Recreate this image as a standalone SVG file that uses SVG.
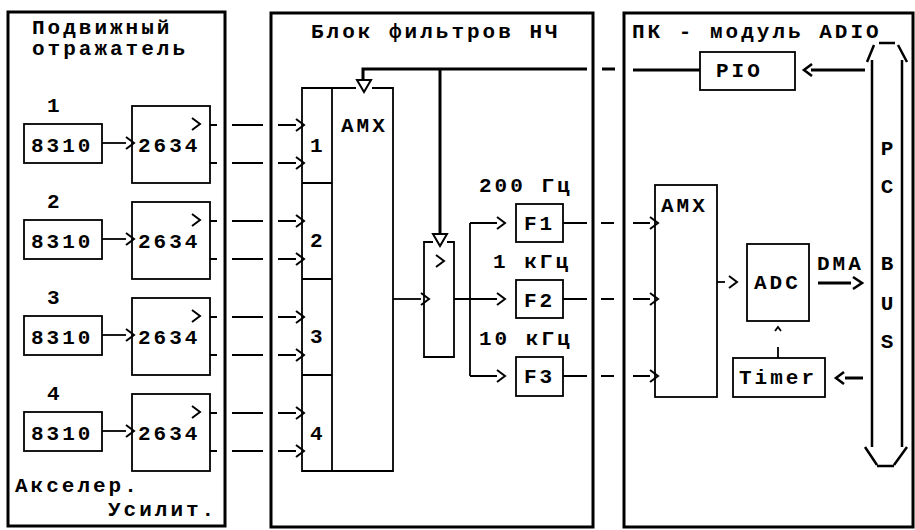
<svg xmlns="http://www.w3.org/2000/svg" xmlns:xlink="http://www.w3.org/1999/xlink" width="915" height="530" viewBox="0 0 915 530">
<style>
.bg{fill:#fff}
.pn{fill:none;stroke:#000;stroke-width:3}
.bx{fill:none;stroke:#000;stroke-width:1.8}
.ln{fill:none;stroke:#000;stroke-width:1.8}
.th{fill:none;stroke:#000;stroke-width:3}
.t{font-family:"Liberation Mono","DejaVu Sans Mono",monospace;font-size:21px;font-weight:bold;letter-spacing:3px;fill:#000}
.tm{text-anchor:middle;letter-spacing:0}
</style>
<defs>
<path id="ch" d="M-8,-6 L0,0 L-8,6" fill="none" stroke="#000" stroke-width="2"/>
<path id="chb" d="M-9,-6 L0,0 L-9,6" fill="none" stroke="#000" stroke-width="2.6"/>
<path id="chl" d="M8,-6 L0,0 L8,6" fill="none" stroke="#000" stroke-width="2.6"/>
<path id="tri" d="M-7,0 L7,0 L0,12 Z" fill="#fff" stroke="#000" stroke-width="2"/>
</defs>
<rect class="bg" x="0" y="0" width="915" height="530"/>

<g id="panel-left">
<rect class="pn" x="8" y="12" width="217" height="514"/>
<text class="t" x="32" y="34">Подвижный</text>
<text class="t" x="32" y="55">отражатель</text>
<text class="t" x="15" y="492">Акселер.</text>
<text class="t" x="108" y="516">Усилит.</text>
</g>

<g id="ch1">
<text class="t" x="47" y="112">1</text>
<rect class="bx" x="24" y="124" width="78" height="39"/>
<text class="t" x="31" y="152">8310</text>
<path class="ln" d="M102,143 H126"/>
<use xlink:href="#ch" x="134" y="143"/>
<rect class="bx" x="132" y="106" width="78" height="77"/>
<text class="t" x="138" y="152">2634</text>
<use xlink:href="#ch" x="200" y="124"/>
<path class="ln" d="M210,125 H217 M210,163 H217"/>
</g>
<g id="ch2" transform="translate(0,96)">
<text class="t" x="47" y="112">2</text>
<rect class="bx" x="24" y="124" width="78" height="39"/>
<text class="t" x="31" y="152">8310</text>
<path class="ln" d="M102,143 H126"/>
<use xlink:href="#ch" x="134" y="143"/>
<rect class="bx" x="132" y="106" width="78" height="77"/>
<text class="t" x="138" y="152">2634</text>
<use xlink:href="#ch" x="200" y="124"/>
<path class="ln" d="M210,125 H217 M210,163 H217"/>
</g>
<g id="ch3" transform="translate(0,192)">
<text class="t" x="47" y="112">3</text>
<rect class="bx" x="24" y="124" width="78" height="39"/>
<text class="t" x="31" y="152">8310</text>
<path class="ln" d="M102,143 H126"/>
<use xlink:href="#ch" x="134" y="143"/>
<rect class="bx" x="132" y="106" width="78" height="77"/>
<text class="t" x="138" y="152">2634</text>
<use xlink:href="#ch" x="200" y="124"/>
<path class="ln" d="M210,125 H217 M210,163 H217"/>
</g>
<g id="ch4" transform="translate(0,288)">
<text class="t" x="47" y="112">4</text>
<rect class="bx" x="24" y="124" width="78" height="39"/>
<text class="t" x="31" y="152">8310</text>
<path class="ln" d="M102,143 H126"/>
<use xlink:href="#ch" x="134" y="143"/>
<rect class="bx" x="132" y="106" width="78" height="77"/>
<text class="t" x="138" y="152">2634</text>
<use xlink:href="#ch" x="200" y="124"/>
<path class="ln" d="M210,125 H217 M210,163 H217"/>
</g>

<g id="panel-mid">
<rect class="pn" x="271" y="13" width="322" height="514"/>
<text class="t" x="311" y="38">Блок фильтров НЧ</text>
</g>

<g id="amx1">
<path class="bx" d="M356,88 H302 V471 H393 V88 H372 M332,88 V471 M302,183 H332 M302,279 H332 M302,375 H332"/>
<text class="t" x="341" y="132">AMX</text>
<text class="t" x="310" y="152">1</text>
<text class="t" x="310" y="247">2</text>
<text class="t" x="310" y="343">3</text>
<text class="t" x="310" y="440">4</text>
</g>

<g id="amp">
<path class="bx" d="M433,242 H424 V357 H454 V242 H447"/>
<use xlink:href="#ch" x="444" y="261"/>
</g>

<g id="f1">
<rect class="bx" x="516" y="204" width="47" height="38"/>
<text class="t" x="524" y="230">F1</text>
<text class="t" x="479" y="192">200 Гц</text>
</g>
<g id="f2">
<rect class="bx" x="516" y="280" width="47" height="38"/>
<text class="t" x="524" y="307">F2</text>
<text class="t" x="493" y="268">1 кГц</text>
</g>
<g id="f3">
<rect class="bx" x="516" y="357" width="47" height="39"/>
<text class="t" x="524" y="383">F3</text>
<text class="t" x="479" y="345">10 кГц</text>
</g>

<g id="panel-right">
<rect class="pn" x="624" y="13" width="289" height="514"/>
<text class="t" x="632" y="38">ПК - модуль ADIO</text>
</g>

<g id="pio">
<rect class="bx" x="700" y="52" width="95" height="38"/>
<text class="t" x="716" y="77">PIO</text>
</g>
<g id="amx2">
<rect class="bx" x="655" y="185" width="62" height="212"/>
<text class="t" x="661" y="212">AMX</text>
</g>
<g id="adc">
<rect class="bx" x="747" y="244" width="62" height="77"/>
<text class="t" x="754" y="289">ADC</text>
</g>
<g id="timer">
<rect class="bx" x="733" y="358" width="92" height="39"/>
<text class="t" x="739" y="384">Timer</text>
</g>
<g id="pcbus">
<path class="th" d="M872,60 V447 M902,60 V447" style="stroke-width:2.5"/>
<path class="ln" d="M867,62 L874,45 M879,43 H895 M898,45 L907,62 M865,447 L877,465 M877,466 H894 M894,465 L907,447" style="stroke-width:2.5"/>
<text class="t tm" x="887" y="155">P</text>
<text class="t tm" x="887" y="193">C</text>
<text class="t tm" x="887" y="270">B</text>
<text class="t tm" x="887" y="310">U</text>
<text class="t tm" x="887" y="348">S</text>
</g>

<g id="connectors">
<path class="ln" d="M232,125 H263 M278,125 H296 M232,163 H263 M278,163 H296
 M232,221 H263 M278,221 H296 M232,259 H263 M278,259 H296
 M232,317 H263 M278,317 H296 M232,355 H263 M278,355 H296
 M232,413 H263 M278,413 H296 M232,451 H263 M278,451 H296"/>
<use xlink:href="#ch" x="304" y="125"/><use xlink:href="#ch" x="304" y="163"/>
<use xlink:href="#ch" x="304" y="221"/><use xlink:href="#ch" x="304" y="259"/>
<use xlink:href="#ch" x="304" y="317"/><use xlink:href="#ch" x="304" y="355"/>
<use xlink:href="#ch" x="304" y="413"/><use xlink:href="#ch" x="304" y="451"/>
<path class="th" d="M700,70 H633 M615,69 H602 M587,69 H363 V80 M440,69 V234"/>
<use xlink:href="#tri" x="364" y="80"/>
<use xlink:href="#tri" x="440" y="234"/>
<path class="th" d="M811,70 H865"/>
<use xlink:href="#chl" x="804" y="70"/>
<path class="ln" d="M393,299 H421"/>
<use xlink:href="#ch" x="429" y="299"/>
<path class="ln" d="M454,299 H497 M470,223 V376 M470,223 H497 M470,376 H497"/>
<use xlink:href="#ch" x="505" y="223"/>
<use xlink:href="#ch" x="505" y="299"/>
<use xlink:href="#ch" x="505" y="376"/>
<path class="ln" d="M563,223 H587 M601,223 H614 M633,223 H650
 M563,299 H587 M601,299 H614 M633,299 H650
 M563,376 H587 M601,376 H614 M633,376 H650"/>
<use xlink:href="#ch" x="658" y="223"/>
<use xlink:href="#ch" x="658" y="299"/>
<use xlink:href="#ch" x="658" y="376"/>
<path class="ln" d="M717,282 H725"/>
<use xlink:href="#ch" x="737" y="282"/>
<text class="t" x="817" y="270">DMA</text>
<path class="th" d="M818,283 H851"/>
<use xlink:href="#chb" x="862" y="283"/>
<path class="ln" d="M775,331 L778,327 L781,331 M778,347 V358"/>
<path class="th" d="M845,378 H863"/>
<use xlink:href="#chl" x="836" y="378"/>
</g>
</svg>
